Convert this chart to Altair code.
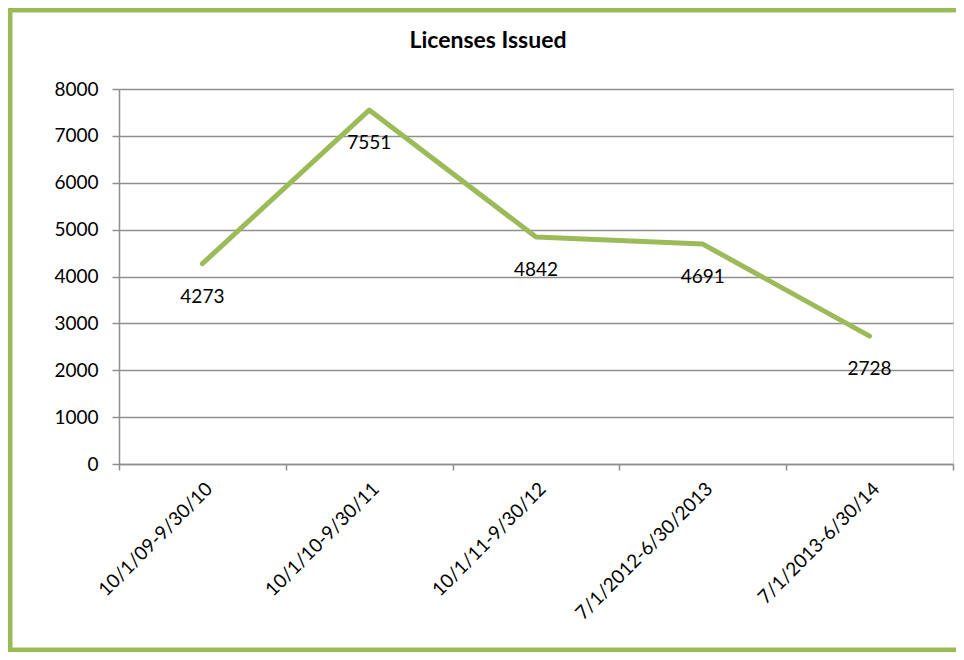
import altair as alt
import pandas as pd

categories = ["10/1/09-9/30/10", "10/1/10-9/30/11", "10/1/11-9/30/12",
              "7/1/2012-6/30/2013", "7/1/2013-6/30/14"]
licenses = [4273, 7551, 4842, 4691, 2728]
title_text = "Licenses Issued"
y_ticks = [0, 1000, 2000, 3000, 4000, 5000, 6000, 7000, 8000]

GREEN = "#9BBB59"
GRID = "#8f8f8f"
FONT = "Lato"

df = pd.DataFrame({"period": categories, "licenses": licenses})

W, H = 834, 375
PAD_L, PAD_T, PAD_R, PAD_B = 111, 81, 3, 188

x_enc = alt.X("period:N", sort=categories, bandPosition=0.5,
              scale=alt.Scale(paddingInner=0, paddingOuter=0),
              axis=alt.Axis(title=None, labelAngle=-45, labelAlign="right",
                            labelBaseline="top", tickBand="extent",
                            tickSize=6, labelPadding=9, grid=False,
                            labelLimit=0,
                            domainColor=GRID, tickColor=GRID,
                            domainWidth=1.5, tickWidth=1.5,
                            labelFont=FONT, labelFontSize=19,
                            labelColor="black"))
y_enc = alt.Y("licenses:Q",
              scale=alt.Scale(domain=[0, 8000], nice=False),
              axis=alt.Axis(title=None, values=y_ticks, format="d", tickSize=7,
                            labelPadding=14, grid=True, gridColor=GRID,
                            gridWidth=1.5, domainColor=GRID, tickColor=GRID,
                            domainWidth=1.5, tickWidth=1.5,
                            labelFont=FONT, labelFontSize=19,
                            labelColor="black"))

base = alt.Chart(df)
line = base.mark_line(color=GREEN, strokeWidth=5, strokeCap="round",
                      strokeJoin="round").encode(x=x_enc, y=y_enc)
labels = base.mark_text(dy=33, baseline="middle", align="center", font=FONT,
                        fontSize=19, color="black").encode(
    x=alt.X("period:N", sort=categories, bandPosition=0.5),
    y="licenses:Q", text="licenses:Q")

title_df = pd.DataFrame({"t": [title_text]})
title = alt.Chart(title_df).mark_text(font=FONT, fontSize=23, fontWeight="bold",
                                      align="center", baseline="alphabetic",
                                      color="black").encode(
    x=alt.value(369), y=alt.value(-41), text="t:N")

border_df = pd.DataFrame({"b": [1]})
border = alt.Chart(border_df).mark_rect(
    fill=None, fillOpacity=0, stroke=GREEN, strokeWidth=4.5).encode(
    x=alt.value(-PAD_L + 2.25), x2=alt.value(W + PAD_R + 12),
    y=alt.value(-PAD_T + 2.25), y2=alt.value(H + PAD_B - 2.25))

chart = alt.layer(line, labels, title, border).properties(
    width=W, height=H,
    autosize=alt.AutoSizeParams(type="none"),
    padding={"left": PAD_L, "top": PAD_T, "right": PAD_R, "bottom": PAD_B},
).configure_view(stroke=None).configure(background="white")

chart.save("out.html", embed_options={"renderer": "svg", "actions": False})
